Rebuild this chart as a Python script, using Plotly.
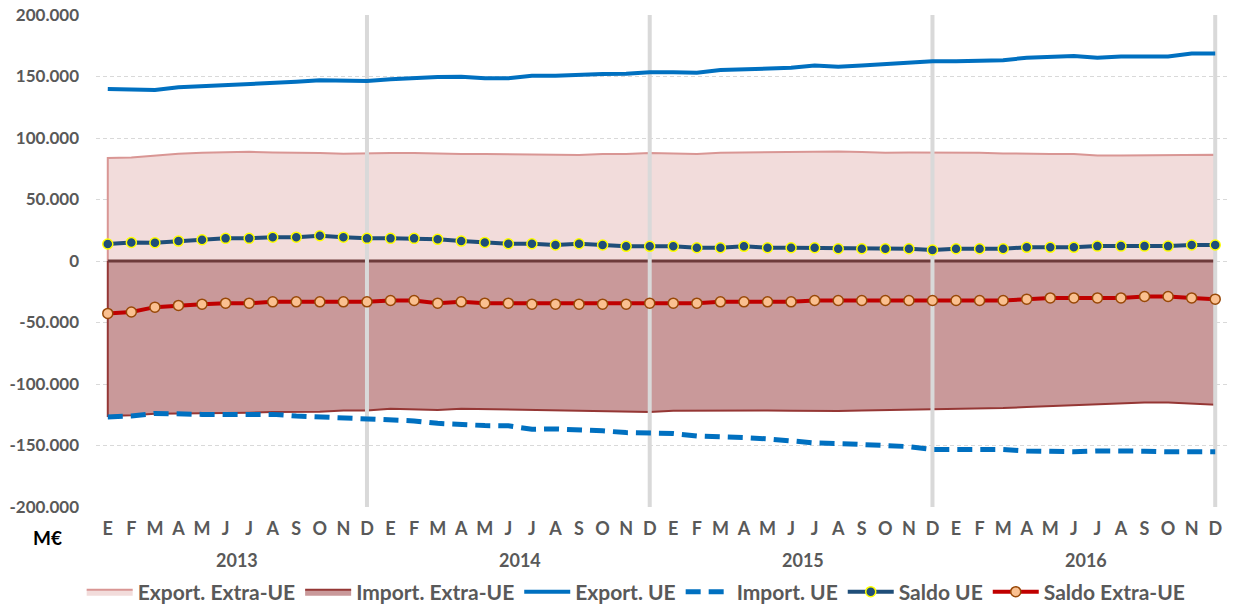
import plotly.graph_objects as go

months = ["E", "F", "M", "A", "M", "J", "J", "A", "S", "O", "N", "D"] * 4
years = ["2013", "2014", "2015", "2016"]

export_ue = [139.8, 139.8, 139.0, 141.2, 142.0, 142.8, 143.3, 144.7, 145.7, 146.9, 146.6, 146.3,
             147.7, 148.7, 149.6, 149.8, 148.5, 148.5, 150.6, 150.6, 151.7, 152.0, 152.2, 153.4,
             153.4, 153.0, 155.2, 156.0, 156.3, 157.1, 159.0, 157.9, 159.0, 160.1, 161.1, 162.3,
             162.5, 163.3, 163.3, 165.2, 165.5, 166.6, 165.2, 166.3, 166.3, 166.3, 168.7, 168.7]
import_ue = [-126.8, -126.0, -123.9, -124.7, -124.7, -124.7, -124.7, -124.7, -126.0, -126.8, -126.8, -127.6,
             -129.2, -130.0, -132.0, -133.3, -133.8, -134.0, -136.8, -136.5, -137.1, -138.1, -139.5, -140.3,
             -140.3, -142.2, -142.4, -143.6, -144.6, -146.2, -147.9, -148.4, -149.5, -150.1, -150.9, -153.3,
             -153.0, -153.0, -153.3, -154.4, -155.1, -155.1, -154.4, -154.1, -154.6, -155.1, -154.6, -155.1]
export_extra = [83.7, 84.2, 85.8, 87.2, 88.0, 88.3, 88.8, 88.3, 88.3, 87.8, 87.2, 87.8,
                87.8, 87.8, 87.2, 87.0, 86.9, 86.6, 86.1, 85.8, 86.1, 86.9, 87.0, 87.8,
                87.2, 87.0, 88.0, 88.3, 88.3, 88.6, 89.1, 89.1, 88.6, 88.0, 88.3, 88.3,
                88.0, 88.0, 87.5, 87.0, 87.0, 87.0, 85.8, 85.8, 85.8, 86.1, 86.4, 86.4]
import_extra = [-126.0, -125.5, -124.1, -123.9, -123.9, -123.6, -123.3, -122.8, -122.8, -122.5, -121.5, -121.5,
                -120.1, -120.4, -121.2, -120.1, -120.4, -120.9, -121.2, -121.5, -121.7, -122.3, -122.5, -122.8,
                -121.7, -121.5, -121.5, -121.7, -121.5, -121.7, -122.0, -122.0, -121.5, -121.2, -120.4, -120.4,
                -120.4, -120.1, -119.6, -118.7, -117.9, -117.6, -116.8, -115.4, -115.1, -115.1, -116.0, -116.8]
saldo_ue = [13.8, 15.1, 14.8, 16.2, 17.3, 18.4, 18.4, 19.4, 19.4, 20.5, 19.4, 18.4,
            18.4, 18.4, 17.6, 16.2, 15.1, 14.0, 14.0, 13.0, 14.0, 13.0, 11.9, 11.9,
            11.9, 10.8, 10.8, 11.9, 10.8, 10.8, 10.8, 10.0, 10.0, 10.0, 10.0, 8.9,
            10.0, 10.0, 10.0, 11.1, 11.1, 11.1, 12.1, 12.1, 12.1, 12.1, 13.0, 13.0]
saldo_extra = [-42.6, -41.5, -37.5, -36.1, -35.1, -34.3, -34.3, -33.2, -33.2, -33.2, -33.2, -33.2,
               -32.1, -32.1, -34.3, -33.2, -34.3, -34.3, -35.1, -35.1, -35.1, -35.1, -35.1, -34.3,
               -34.3, -34.3, -33.2, -33.2, -33.2, -33.2, -32.1, -32.1, -32.1, -32.1, -32.1, -32.1,
               -32.1, -32.1, -32.1, -31.0, -30.0, -30.0, -30.0, -30.0, -28.9, -28.9, -30.0, -31.0]

y_tickvals = [200000, 150000, 100000, 50000, 0, -50000, -100000, -150000, -200000]
y_ticktext = ["200.000", "150.000", "100.000", "50.000", "0", "-50.000", "-100.000", "-150.000", "-200.000"]

n = len(months)
x = list(range(n))
k = lambda arr: [v * 1000 for v in arr]

FONT = "Lato"
GRAY = "#595959"

fig = go.Figure()

# Closed polygons for areas (so the left/right edges get a border like in Excel)
fig.add_trace(go.Scatter(
    x=[0] + x + [n - 1], y=[0] + k(export_extra) + [0],
    mode="lines", fill="toself", fillcolor="#F2DCDB",
    line=dict(color="#D99694", width=2), name="Export. Extra-UE", hoverinfo="skip"))
fig.add_trace(go.Scatter(
    x=[0] + x + [n - 1], y=[0] + k(import_extra) + [0],
    mode="lines", fill="toself", fillcolor="#C9999A",
    line=dict(color="#953735", width=2), name="Import. Extra-UE", hoverinfo="skip"))
# zero border line of the import area (darker)
fig.add_trace(go.Scatter(x=[0, n - 1], y=[0, 0], mode="lines",
                         line=dict(color="#6E3B3B", width=3), showlegend=False, hoverinfo="skip"))

# December separators (between areas and lines)
dec_x, dec_y = [], []
for i, m in enumerate(months):
    if m == "D":
        dec_x += [i, i, None]
        dec_y += [y_tickvals[-1], y_tickvals[0], None]
fig.add_trace(go.Scatter(x=dec_x, y=dec_y, mode="lines",
                         line=dict(color="#D9D9D9", width=4), showlegend=False, hoverinfo="skip"))

fig.add_trace(go.Scatter(x=x, y=k(export_ue), mode="lines", name="Export. UE",
                         line=dict(color="#0070C0", width=4)))
fig.add_trace(go.Scatter(x=x, y=k(import_ue), mode="lines", name="Import. UE",
                         line=dict(color="#0070C0", width=5, dash="15px,8px")))
fig.add_trace(go.Scatter(x=x, y=k(saldo_ue), mode="lines+markers", name="Saldo UE",
                         line=dict(color="#1F4E79", width=4),
                         marker=dict(size=10, color="#1F4E79", line=dict(color="#FFFF00", width=1.5))))
fig.add_trace(go.Scatter(x=x, y=k(saldo_extra), mode="lines+markers", name="Saldo Extra-UE",
                         line=dict(color="#C00000", width=4),
                         marker=dict(size=10, color="#FAC090", line=dict(color="#984807", width=1.5))))

annotations = []
for j, yr in enumerate(years):
    annotations.append(dict(x=12 * j + 5.5, xref="x", y=0, yref="paper", yanchor="middle",
                            yshift=-53, text=yr, showarrow=False,
                            font=dict(family=FONT, size=18, color=GRAY, weight="bold")))
annotations.append(dict(x=-(96 - 47) / (1227 - 96), xref="paper", xanchor="center",
                        y=0, yref="paper", yanchor="middle", yshift=-30, text="M€",
                        showarrow=False, font=dict(family=FONT, size=19, color="#000000", weight="bold")))

# The page body has an 8px margin; size the figure so the plot area lands where the reference has it.
fig.update_layout(
    width=1239, height=598,
    margin=dict(l=88, r=20, t=7, b=99, autoexpand=False),
    paper_bgcolor="white", plot_bgcolor="white",
    font=dict(family=FONT, color=GRAY),
    showlegend=True,
    legend=dict(orientation="h", x=0.507, xref="container", xanchor="center",
                y=14 / 598, yref="container", yanchor="middle",
                font=dict(family=FONT, size=21, color=GRAY, weight="bold"),
                itemwidth=46, traceorder="normal", bgcolor="rgba(0,0,0,0)"),
    xaxis=dict(range=[-0.5, n - 0.5], tickmode="array", tickvals=x, ticktext=months,
               showgrid=False, zeroline=False, showline=False, ticks="",
               ticklabelstandoff=9, automargin=False, ticklabeloverflow="allow",
               tickfont=dict(family=FONT, size=18, color=GRAY, weight="bold")),
    yaxis=dict(range=[-200000, 200000], tickmode="array", tickvals=y_tickvals, ticktext=y_ticktext,
               showgrid=True, gridcolor="#D9D9D9", gridwidth=1, griddash="4px,3px",
               zeroline=False, showline=False, ticks="", ticklabelstandoff=16, automargin=False,
               ticklabeloverflow="allow",
               tickfont=dict(family=FONT, size=17, color=GRAY, weight="bold")),
    annotations=annotations,
    hovermode=False,
)

fig.write_html("out.html")
